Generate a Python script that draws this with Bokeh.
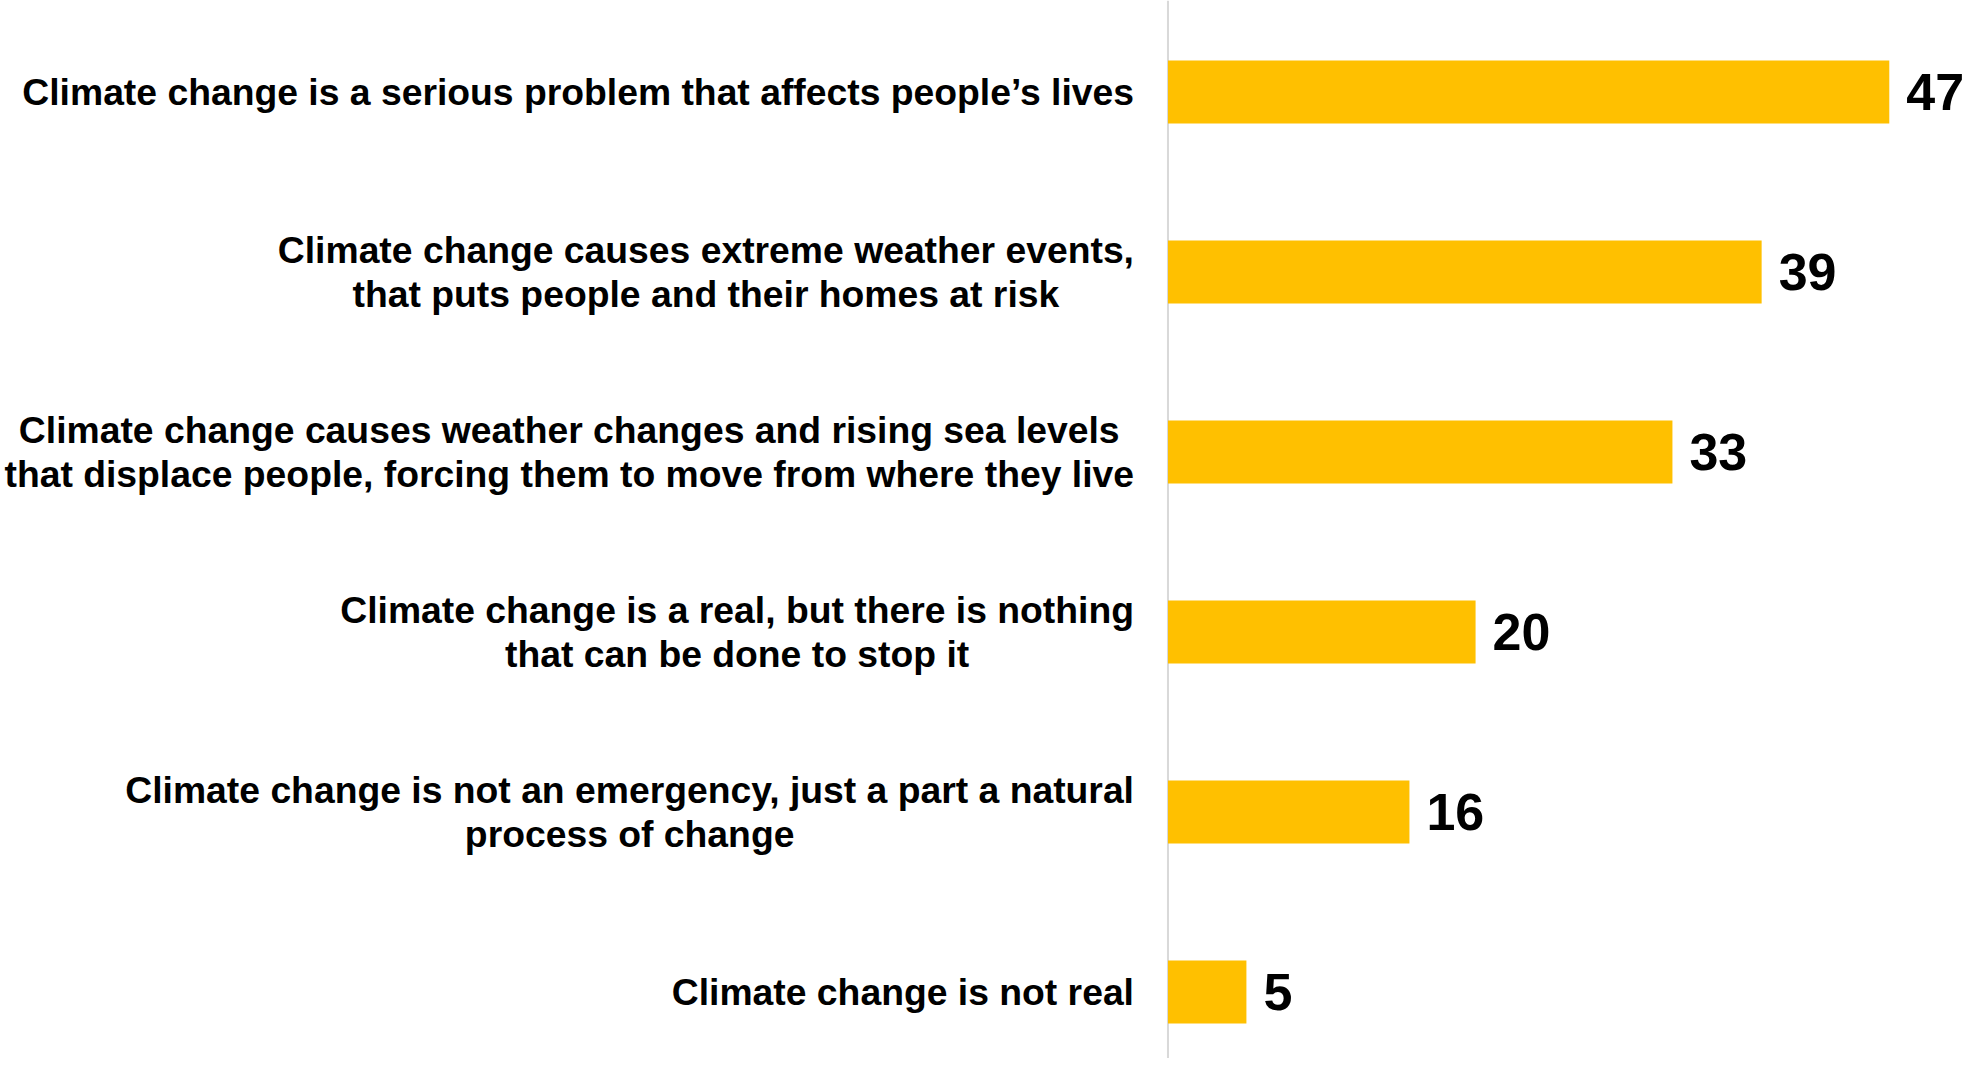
from bokeh.plotting import figure
from bokeh.models import Range1d, FactorRange, Span, ColumnDataSource
from bokeh.core.properties import value
from bokeh.transform import dodge
from bokeh.embed import file_html
from bokeh.resources import INLINE

categories = [
    "Climate change is a serious problem that affects people\u2019s lives",
    "Climate change causes extreme weather events,\nthat puts people and their homes at risk",
    "Climate change causes weather changes and rising sea levels\nthat displace people, forcing them to move from where they live",
    "Climate change is a real, but there is nothing\nthat can be done to stop it",
    "Climate change is not an emergency, just a part a natural\nprocess of change",
    "Climate change is not real",
]
values = [46.9, 38.6, 32.8, 20.0, 15.7, 5.1]
value_labels = ["47", "39", "33", "20", "16", "5"]

BAR_COLOR = "#FFC000"
FONT = "Liberation Sans"

src = ColumnDataSource(dict(cat=categories, val=values, lab=value_labels, zero=[0] * len(values)))

p = figure(
    width=1964, height=1058,
    x_range=Range1d(-75.91, 51.79),
    y_range=FactorRange(*list(reversed(categories)), range_padding=-0.0204),
    output_backend="svg", toolbar_location=None,
    min_border=0,
)
p.axis.visible = False
p.grid.visible = False
p.outline_line_color = None
p.background_fill_color = "white"

p.add_layout(Span(location=0, dimension="height", line_color="#d9d9d9", line_width=2, level="underlay"))

ycat = dodge("cat", -0.069, range=p.y_range)

p.hbar(y=ycat, left=0, right="val", height=0.35, color=BAR_COLOR, line_color=None, source=src)

p.text(x="zero", y=ycat, text="cat", source=src, x_offset=-34,
       text_align="center", anchor="center_right", text_baseline="middle",
       text_font=value(FONT), text_font_style="bold", text_font_size="37.3px",
       text_line_height=1.05, text_color="black")

p.text(x="val", y=ycat, text="lab", source=src, x_offset=17,
       text_align="left", text_baseline="middle",
       text_font=value(FONT), text_font_style="bold", text_font_size="52px",
       text_color="black")

open("out.html", "w").write(file_html(p, INLINE))
